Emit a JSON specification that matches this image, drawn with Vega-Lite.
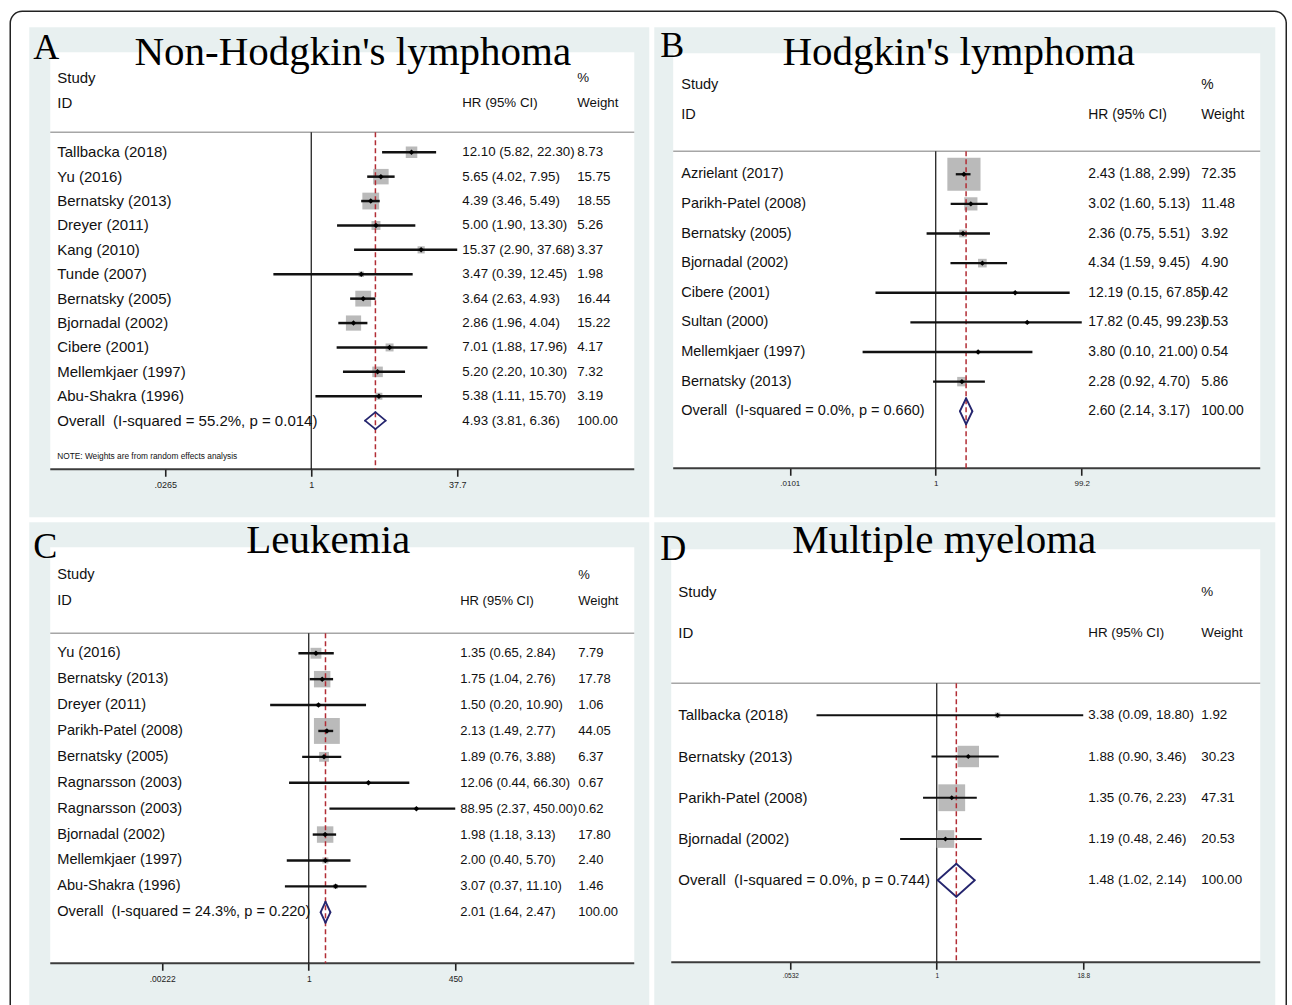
{
"$schema": "https://vega.github.io/schema/vega-lite/v6.json",
"background": "white",
"padding": {"left": 9.25, "top": 10.25, "right": 0, "bottom": 0},
"autosize": {"type": "pad"},
"bounds": "flush",
"columns": 2,
"spacing": 5,
"datasets": {
"nhl": [
{"row": 1, "study": "Tallbacka (2018)", "hr": 12.10, "lo": 5.82, "hi": 22.30, "wt": 8.73, "ci": "12.10 (5.82, 22.30)", "ov": false},
{"row": 2, "study": "Yu (2016)", "hr": 5.65, "lo": 4.02, "hi": 7.95, "wt": 15.75, "ci": "5.65 (4.02, 7.95)", "ov": false},
{"row": 3, "study": "Bernatsky (2013)", "hr": 4.39, "lo": 3.46, "hi": 5.49, "wt": 18.55, "ci": "4.39 (3.46, 5.49)", "ov": false},
{"row": 4, "study": "Dreyer (2011)", "hr": 5.00, "lo": 1.90, "hi": 13.30, "wt": 5.26, "ci": "5.00 (1.90, 13.30)", "ov": false},
{"row": 5, "study": "Kang (2010)", "hr": 15.37, "lo": 2.90, "hi": 37.68, "wt": 3.37, "ci": "15.37 (2.90, 37.68)", "ov": false},
{"row": 6, "study": "Tunde (2007)", "hr": 3.47, "lo": 0.39, "hi": 12.45, "wt": 1.98, "ci": "3.47 (0.39, 12.45)", "ov": false},
{"row": 7, "study": "Bernatsky (2005)", "hr": 3.64, "lo": 2.63, "hi": 4.93, "wt": 16.44, "ci": "3.64 (2.63, 4.93)", "ov": false},
{"row": 8, "study": "Bjornadal (2002)", "hr": 2.86, "lo": 1.96, "hi": 4.04, "wt": 15.22, "ci": "2.86 (1.96, 4.04)", "ov": false},
{"row": 9, "study": "Cibere (2001)", "hr": 7.01, "lo": 1.88, "hi": 17.96, "wt": 4.17, "ci": "7.01 (1.88, 17.96)", "ov": false},
{"row": 10, "study": "Mellemkjaer (1997)", "hr": 5.20, "lo": 2.20, "hi": 10.30, "wt": 7.32, "ci": "5.20 (2.20, 10.30)", "ov": false},
{"row": 11, "study": "Abu-Shakra (1996)", "hr": 5.38, "lo": 1.11, "hi": 15.70, "wt": 3.19, "ci": "5.38 (1.11, 15.70)", "ov": false},
{"row": 12, "study": "Overall\u00a0 (I-squared = 55.2%, p = 0.014)", "hr": 4.93, "lo": 3.81, "hi": 6.36, "wt": 100.00, "ci": "4.93 (3.81, 6.36)", "ov": true}
],
"hl": [
{"row": 1, "study": "Azrielant (2017)", "hr": 2.43, "lo": 1.88, "hi": 2.99, "wt": 72.35, "ci": "2.43 (1.88, 2.99)", "ov": false},
{"row": 2, "study": "Parikh-Patel (2008)", "hr": 3.02, "lo": 1.60, "hi": 5.13, "wt": 11.48, "ci": "3.02 (1.60, 5.13)", "ov": false},
{"row": 3, "study": "Bernatsky (2005)", "hr": 2.36, "lo": 0.75, "hi": 5.51, "wt": 3.92, "ci": "2.36 (0.75, 5.51)", "ov": false},
{"row": 4, "study": "Bjornadal (2002)", "hr": 4.34, "lo": 1.59, "hi": 9.45, "wt": 4.90, "ci": "4.34 (1.59, 9.45)", "ov": false},
{"row": 5, "study": "Cibere (2001)", "hr": 12.19, "lo": 0.15, "hi": 67.85, "wt": 0.42, "ci": "12.19 (0.15, 67.85)", "ov": false},
{"row": 6, "study": "Sultan (2000)", "hr": 17.82, "lo": 0.45, "hi": 99.23, "wt": 0.53, "ci": "17.82 (0.45, 99.23)", "ov": false},
{"row": 7, "study": "Mellemkjaer (1997)", "hr": 3.80, "lo": 0.10, "hi": 21.00, "wt": 0.54, "ci": "3.80 (0.10, 21.00)", "ov": false},
{"row": 8, "study": "Bernatsky (2013)", "hr": 2.28, "lo": 0.92, "hi": 4.70, "wt": 5.86, "ci": "2.28 (0.92, 4.70)", "ov": false},
{"row": 9, "study": "Overall\u00a0 (I-squared = 0.0%, p = 0.660)", "hr": 2.60, "lo": 2.14, "hi": 3.17, "wt": 100.00, "ci": "2.60 (2.14, 3.17)", "ov": true}
],
"leuk": [
{"row": 1, "study": "Yu (2016)", "hr": 1.35, "lo": 0.65, "hi": 2.84, "wt": 7.79, "ci": "1.35 (0.65, 2.84)", "ov": false},
{"row": 2, "study": "Bernatsky (2013)", "hr": 1.75, "lo": 1.04, "hi": 2.76, "wt": 17.78, "ci": "1.75 (1.04, 2.76)", "ov": false},
{"row": 3, "study": "Dreyer (2011)", "hr": 1.50, "lo": 0.20, "hi": 10.90, "wt": 1.06, "ci": "1.50 (0.20, 10.90)", "ov": false},
{"row": 4, "study": "Parikh-Patel (2008)", "hr": 2.13, "lo": 1.49, "hi": 2.77, "wt": 44.05, "ci": "2.13 (1.49, 2.77)", "ov": false},
{"row": 5, "study": "Bernatsky (2005)", "hr": 1.89, "lo": 0.76, "hi": 3.88, "wt": 6.37, "ci": "1.89 (0.76, 3.88)", "ov": false},
{"row": 6, "study": "Ragnarsson (2003)", "hr": 12.06, "lo": 0.44, "hi": 66.30, "wt": 0.67, "ci": "12.06 (0.44, 66.30)", "ov": false},
{"row": 7, "study": "Ragnarsson (2003)", "hr": 88.95, "lo": 2.37, "hi": 450.00, "wt": 0.62, "ci": "88.95 (2.37, 450.00)", "ov": false},
{"row": 8, "study": "Bjornadal (2002)", "hr": 1.98, "lo": 1.18, "hi": 3.13, "wt": 17.80, "ci": "1.98 (1.18, 3.13)", "ov": false},
{"row": 9, "study": "Mellemkjaer (1997)", "hr": 2.00, "lo": 0.40, "hi": 5.70, "wt": 2.40, "ci": "2.00 (0.40, 5.70)", "ov": false},
{"row": 10, "study": "Abu-Shakra (1996)", "hr": 3.07, "lo": 0.37, "hi": 11.10, "wt": 1.46, "ci": "3.07 (0.37, 11.10)", "ov": false},
{"row": 11, "study": "Overall\u00a0 (I-squared = 24.3%, p = 0.220)", "hr": 2.01, "lo": 1.64, "hi": 2.47, "wt": 100.00, "ci": "2.01 (1.64, 2.47)", "ov": true}
],
"mm": [
{"row": 1, "study": "Tallbacka (2018)", "hr": 3.38, "lo": 0.09, "hi": 18.80, "wt": 1.92, "ci": "3.38 (0.09, 18.80)", "ov": false},
{"row": 2, "study": "Bernatsky (2013)", "hr": 1.88, "lo": 0.90, "hi": 3.46, "wt": 30.23, "ci": "1.88 (0.90, 3.46)", "ov": false},
{"row": 3, "study": "Parikh-Patel (2008)", "hr": 1.35, "lo": 0.76, "hi": 2.23, "wt": 47.31, "ci": "1.35 (0.76, 2.23)", "ov": false},
{"row": 4, "study": "Bjornadal (2002)", "hr": 1.19, "lo": 0.48, "hi": 2.46, "wt": 20.53, "ci": "1.19 (0.48, 2.46)", "ov": false},
{"row": 5, "study": "Overall\u00a0 (I-squared = 0.0%, p = 0.744)", "hr": 1.48, "lo": 1.02, "hi": 2.14, "wt": 100.00, "ci": "1.48 (1.02, 2.14)", "ov": true}
]
},
"concat": [
{
"width": 620, "height": 490,
"view": {"fill": "#e8f0f0", "stroke": null},
"data": {"name": "nhl"},
"resolve": {"axis": {"x": "independent", "y": "independent"}},
"layer": [
{"data": {"values": [{}]}, "mark": {"type": "rect", "fillOpacity": 0, "stroke": "#222", "strokeWidth": 1.5, "cornerRadius": 12},
 "encoding": {"x": {"datum": 0.000562, "type": "quantitative", "scale": {"type": "log", "domain": [0.0009015, 4464], "nice": false}, "axis": null}, "x2": {"datum": 33740000000},
  "y": {"datum": -4.779, "type": "quantitative", "scale": {"type": "linear", "domain": [-4.123, 15.959], "reverse": true, "nice": false, "zero": false}, "axis": null}, "y2": {"datum": 36.57}}},
{"data": {"values": [{}]}, "mark": {"type": "rect", "fill": "white"},
 "encoding": {"x": {"datum": 0.00152, "type": "quantitative", "scale": {"type": "log", "domain": [0.0009015, 4464], "nice": false}, "axis": null}, "x2": {"datum": 3076},
  "y": {"datum": -3.098, "type": "quantitative", "scale": {"type": "linear", "domain": [-4.123, 15.959], "reverse": true, "nice": false, "zero": false}, "axis": null}, "y2": {"datum": 13.992}}},
{"data": {"values": [{}]}, "mark": {"type": "rule", "color": "#a6a6a6", "strokeWidth": 1.5},
 "encoding": {"x": {"datum": 0.00152, "type": "quantitative", "scale": {"type": "log", "domain": [0.0009015, 4464], "nice": false}, "axis": null}, "x2": {"datum": 3076},
  "y": {"datum": 0.18, "type": "quantitative", "scale": {"type": "linear", "domain": [-4.123, 15.959], "reverse": true, "nice": false, "zero": false}, "axis": null}}},
{"data": {"values": [{}]}, "mark": {"type": "rule", "color": "#3c3c3c", "strokeWidth": 2},
 "encoding": {"x": {"datum": 0.00152, "type": "quantitative", "scale": {"type": "log", "domain": [0.0009015, 4464], "nice": false}, "axis": null}, "x2": {"datum": 3076},
  "y": {"datum": 13.992, "type": "quantitative", "scale": {"type": "linear", "domain": [-4.123, 15.959], "reverse": true, "nice": false, "zero": false}, "axis": null}}},
{"data": {"values": [{}]}, "mark": {"type": "rule", "color": "#111", "strokeWidth": 1.2},
 "encoding": {"x": {"datum": 1, "type": "quantitative", "scale": {"type": "log", "domain": [0.0009015, 4464], "nice": false}, "axis": null},
  "y": {"datum": 0.18, "type": "quantitative", "scale": {"type": "linear", "domain": [-4.123, 15.959], "reverse": true, "nice": false, "zero": false}, "axis": null}, "y2": {"datum": 13.992}}},
{"transform": [{"filter": "!datum.ov"}], "mark": {"type": "point", "shape": "square", "filled": true, "color": "#bababa", "opacity": 1, "strokeWidth": 0},
 "encoding": {"x": {"field": "hr", "type": "quantitative", "scale": {"type": "log", "domain": [0.0009015, 4464], "nice": false}, "axis": null},
  "y": {"field": "row", "type": "quantitative", "scale": {"type": "linear", "domain": [-4.123, 15.959], "reverse": true, "nice": false, "zero": false}, "axis": null},
  "size": {"field": "wt", "type": "quantitative", "scale": {"type": "linear", "domain": [0, 100], "range": [0, 1521], "zero": true}, "legend": null}}},
{"data": {"values": [{}]}, "mark": {"type": "rule", "color": "#b22d35", "strokeWidth": 1.5, "strokeDash": [5, 3]},
 "encoding": {"x": {"datum": 4.93, "type": "quantitative", "scale": {"type": "log", "domain": [0.0009015, 4464], "nice": false}, "axis": null},
  "y": {"datum": 0.18, "type": "quantitative", "scale": {"type": "linear", "domain": [-4.123, 15.959], "reverse": true, "nice": false, "zero": false}, "axis": null}, "y2": {"datum": 13.992}}},
{"transform": [{"filter": "!datum.ov"}], "mark": {"type": "rule", "color": "#111", "strokeWidth": 2.5},
 "encoding": {"x": {"field": "lo", "type": "quantitative", "scale": {"type": "log", "domain": [0.0009015, 4464], "nice": false},
   "axis": {"orient": "bottom", "zindex": 3, "values": [0.0265, 1, 37.7], "format": "~g", "labelExpr": "datum.value < 1 ? slice(datum.label, 1) : datum.label", "offset": -48, "title": null, "domain": false, "grid": false, "ticks": true, "tickSize": 7, "tickWidth": 1.6, "tickColor": "#222", "labelFontSize": 9, "labelPadding": 4, "labelColor": "#222", "labelFont": "Liberation Sans", "labelFlush": false, "labelOverlap": false}},
  "x2": {"field": "hi"},
  "y": {"field": "row", "type": "quantitative", "scale": {"type": "linear", "domain": [-4.123, 15.959], "reverse": true, "nice": false, "zero": false}, "axis": null}}},
{"transform": [{"filter": "!datum.ov"}], "mark": {"type": "point", "shape": "diamond", "filled": true, "color": "#000", "opacity": 1, "size": 30},
 "encoding": {"x": {"field": "hr", "type": "quantitative", "scale": {"type": "log", "domain": [0.0009015, 4464], "nice": false}, "axis": null},
  "y": {"field": "row", "type": "quantitative", "scale": {"type": "linear", "domain": [-4.123, 15.959], "reverse": true, "nice": false, "zero": false}, "axis": null}}},
{"transform": [{"filter": "datum.ov"}], "mark": {"type": "rule", "color": "#25256e", "strokeWidth": 1.8, "strokeCap": "round", "y2Offset": -8.5},
 "encoding": {"x": {"field": "lo", "type": "quantitative", "scale": {"type": "log", "domain": [0.0009015, 4464], "nice": false}, "axis": null}, "x2": {"field": "hr"},
  "y": {"field": "row", "type": "quantitative", "scale": {"type": "linear", "domain": [-4.123, 15.959], "reverse": true, "nice": false, "zero": false}, "axis": null}, "y2": {"field": "row"}}},
{"transform": [{"filter": "datum.ov"}], "mark": {"type": "rule", "color": "#25256e", "strokeWidth": 1.8, "strokeCap": "round", "y2Offset": 8.5},
 "encoding": {"x": {"field": "lo", "type": "quantitative", "scale": {"type": "log", "domain": [0.0009015, 4464], "nice": false}, "axis": null}, "x2": {"field": "hr"},
  "y": {"field": "row", "type": "quantitative", "scale": {"type": "linear", "domain": [-4.123, 15.959], "reverse": true, "nice": false, "zero": false}, "axis": null}, "y2": {"field": "row"}}},
{"transform": [{"filter": "datum.ov"}], "mark": {"type": "rule", "color": "#25256e", "strokeWidth": 1.8, "strokeCap": "round", "yOffset": -8.5},
 "encoding": {"x": {"field": "hr", "type": "quantitative", "scale": {"type": "log", "domain": [0.0009015, 4464], "nice": false}, "axis": null}, "x2": {"field": "hi"},
  "y": {"field": "row", "type": "quantitative", "scale": {"type": "linear", "domain": [-4.123, 15.959], "reverse": true, "nice": false, "zero": false}, "axis": null}, "y2": {"field": "row"}}},
{"transform": [{"filter": "datum.ov"}], "mark": {"type": "rule", "color": "#25256e", "strokeWidth": 1.8, "strokeCap": "round", "yOffset": 8.5},
 "encoding": {"x": {"field": "hr", "type": "quantitative", "scale": {"type": "log", "domain": [0.0009015, 4464], "nice": false}, "axis": null}, "x2": {"field": "hi"},
  "y": {"field": "row", "type": "quantitative", "scale": {"type": "linear", "domain": [-4.123, 15.959], "reverse": true, "nice": false, "zero": false}, "axis": null}, "y2": {"field": "row"}}},
{"mark": {"type": "text", "align": "left", "baseline": "middle", "fontSize": 15},
 "encoding": {"x": {"datum": 0.001809, "type": "quantitative", "scale": {"type": "log", "domain": [0.0009015, 4464], "nice": false}, "axis": null},
  "y": {"field": "row", "type": "quantitative", "scale": {"type": "linear", "domain": [-4.123, 15.959], "reverse": true, "nice": false, "zero": false}, "axis": null}, "text": {"field": "study"}}},
{"mark": {"type": "text", "align": "left", "baseline": "middle", "fontSize": 13.3},
 "encoding": {"x": {"datum": 42.71, "type": "quantitative", "scale": {"type": "log", "domain": [0.0009015, 4464], "nice": false}, "axis": null},
  "y": {"field": "row", "type": "quantitative", "scale": {"type": "linear", "domain": [-4.123, 15.959], "reverse": true, "nice": false, "zero": false}, "axis": null}, "text": {"field": "ci"}}},
{"mark": {"type": "text", "align": "left", "baseline": "middle", "fontSize": 13.3},
 "encoding": {"x": {"datum": 744.6, "type": "quantitative", "scale": {"type": "log", "domain": [0.0009015, 4464], "nice": false}, "axis": null},
  "y": {"field": "row", "type": "quantitative", "scale": {"type": "linear", "domain": [-4.123, 15.959], "reverse": true, "nice": false, "zero": false}, "axis": null}, "text": {"field": "wt", "type": "quantitative", "format": ".2f"}}},
{"data": {"values": [{}]}, "mark": {"type": "text", "align": "left", "baseline": "middle", "fontSize": 15, "text": "Study"},
 "encoding": {"x": {"datum": 0.001809, "type": "quantitative", "scale": {"type": "log", "domain": [0.0009015, 4464], "nice": false}, "axis": null},
  "y": {"datum": -2.033, "type": "quantitative", "scale": {"type": "linear", "domain": [-4.123, 15.959], "reverse": true, "nice": false, "zero": false}, "axis": null}}},
{"data": {"values": [{}]}, "mark": {"type": "text", "align": "left", "baseline": "middle", "fontSize": 15, "text": "ID"},
 "encoding": {"x": {"datum": 0.001809, "type": "quantitative", "scale": {"type": "log", "domain": [0.0009015, 4464], "nice": false}, "axis": null},
  "y": {"datum": -1.008, "type": "quantitative", "scale": {"type": "linear", "domain": [-4.123, 15.959], "reverse": true, "nice": false, "zero": false}, "axis": null}}},
{"data": {"values": [{}]}, "mark": {"type": "text", "align": "left", "baseline": "middle", "fontSize": 13.3, "text": "HR (95% CI)"},
 "encoding": {"x": {"datum": 42.71, "type": "quantitative", "scale": {"type": "log", "domain": [0.0009015, 4464], "nice": false}, "axis": null},
  "y": {"datum": -1.008, "type": "quantitative", "scale": {"type": "linear", "domain": [-4.123, 15.959], "reverse": true, "nice": false, "zero": false}, "axis": null}}},
{"data": {"values": [{}]}, "mark": {"type": "text", "align": "left", "baseline": "middle", "fontSize": 13.3, "text": "%"},
 "encoding": {"x": {"datum": 744.6, "type": "quantitative", "scale": {"type": "log", "domain": [0.0009015, 4464], "nice": false}, "axis": null},
  "y": {"datum": -2.033, "type": "quantitative", "scale": {"type": "linear", "domain": [-4.123, 15.959], "reverse": true, "nice": false, "zero": false}, "axis": null}}},
{"data": {"values": [{}]}, "mark": {"type": "text", "align": "left", "baseline": "middle", "fontSize": 13.3, "text": "Weight"},
 "encoding": {"x": {"datum": 744.6, "type": "quantitative", "scale": {"type": "log", "domain": [0.0009015, 4464], "nice": false}, "axis": null},
  "y": {"datum": -1.008, "type": "quantitative", "scale": {"type": "linear", "domain": [-4.123, 15.959], "reverse": true, "nice": false, "zero": false}, "axis": null}}},
{"data": {"values": [{}]}, "mark": {"type": "text", "align": "left", "baseline": "middle", "fontSize": 8.3, "text": "NOTE: Weights are from random effects analysis"},
 "encoding": {"x": {"datum": 0.001809, "type": "quantitative", "scale": {"type": "log", "domain": [0.0009015, 4464], "nice": false}, "axis": null},
  "y": {"datum": 13.5, "type": "quantitative", "scale": {"type": "linear", "domain": [-4.123, 15.959], "reverse": true, "nice": false, "zero": false}, "axis": null}}},
{"data": {"values": [{}]}, "mark": {"type": "text", "align": "left", "baseline": "alphabetic", "fontSize": 36, "font": "Liberation Serif", "color": "#000", "text": "A"},
 "encoding": {"x": {"datum": 0.000996, "type": "quantitative", "scale": {"type": "log", "domain": [0.0009015, 4464], "nice": false}, "axis": null},
  "y": {"datum": -2.811, "type": "quantitative", "scale": {"type": "linear", "domain": [-4.123, 15.959], "reverse": true, "nice": false, "zero": false}, "axis": null}}},
{"data": {"values": [{}]}, "mark": {"type": "text", "align": "center", "baseline": "alphabetic", "fontSize": 41, "font": "Liberation Serif", "color": "#000", "text": "Non-Hodgkin's lymphoma"},
 "encoding": {"x": {"datum": 2.806, "type": "quantitative", "scale": {"type": "log", "domain": [0.0009015, 4464], "nice": false}, "axis": null},
  "y": {"datum": -2.566, "type": "quantitative", "scale": {"type": "linear", "domain": [-4.123, 15.959], "reverse": true, "nice": false, "zero": false}, "axis": null}}}
]
},
{
"width": 621, "height": 490,
"view": {"fill": "#e8f0f0", "stroke": null},
"data": {"name": "hl"},
"resolve": {"axis": {"x": "independent", "y": "independent"}},
"layer": [
{"data": {"values": [{}]}, "mark": {"type": "rect", "fill": "white"},
 "encoding": {"x": {"datum": 0.0002571, "type": "quantitative", "scale": {"type": "log", "domain": [0.0001416, 43897], "nice": false}, "axis": null}, "x2": {"datum": 27360},
  "y": {"datum": -3.084, "type": "quantitative", "scale": {"type": "linear", "domain": [-3.962, 12.578], "reverse": true, "nice": false, "zero": false}, "axis": null}, "y2": {"datum": 10.924}}},
{"data": {"values": [{}]}, "mark": {"type": "rule", "color": "#a6a6a6", "strokeWidth": 1.5},
 "encoding": {"x": {"datum": 0.0002571, "type": "quantitative", "scale": {"type": "log", "domain": [0.0001416, 43897], "nice": false}, "axis": null}, "x2": {"datum": 27360},
  "y": {"datum": 0.224, "type": "quantitative", "scale": {"type": "linear", "domain": [-3.962, 12.578], "reverse": true, "nice": false, "zero": false}, "axis": null}}},
{"data": {"values": [{}]}, "mark": {"type": "rule", "color": "#3c3c3c", "strokeWidth": 2},
 "encoding": {"x": {"datum": 0.0002571, "type": "quantitative", "scale": {"type": "log", "domain": [0.0001416, 43897], "nice": false}, "axis": null}, "x2": {"datum": 27360},
  "y": {"datum": 10.924, "type": "quantitative", "scale": {"type": "linear", "domain": [-3.962, 12.578], "reverse": true, "nice": false, "zero": false}, "axis": null}}},
{"data": {"values": [{}]}, "mark": {"type": "rule", "color": "#111", "strokeWidth": 1.2},
 "encoding": {"x": {"datum": 1, "type": "quantitative", "scale": {"type": "log", "domain": [0.0001416, 43897], "nice": false}, "axis": null},
  "y": {"datum": 0.224, "type": "quantitative", "scale": {"type": "linear", "domain": [-3.962, 12.578], "reverse": true, "nice": false, "zero": false}, "axis": null}, "y2": {"datum": 10.924}}},
{"transform": [{"filter": "!datum.ov"}], "mark": {"type": "point", "shape": "square", "filled": true, "color": "#bababa", "opacity": 1, "strokeWidth": 0},
 "encoding": {"x": {"field": "hr", "type": "quantitative", "scale": {"type": "log", "domain": [0.0001416, 43897], "nice": false}, "axis": null},
  "y": {"field": "row", "type": "quantitative", "scale": {"type": "linear", "domain": [-3.962, 12.578], "reverse": true, "nice": false, "zero": false}, "axis": null},
  "size": {"field": "wt", "type": "quantitative", "scale": {"type": "linear", "domain": [0, 100], "range": [0, 1600], "zero": true}, "legend": null}}},
{"data": {"values": [{}]}, "mark": {"type": "rule", "color": "#b22d35", "strokeWidth": 1.5, "strokeDash": [5, 3]},
 "encoding": {"x": {"datum": 2.60, "type": "quantitative", "scale": {"type": "log", "domain": [0.0001416, 43897], "nice": false}, "axis": null},
  "y": {"datum": 0.224, "type": "quantitative", "scale": {"type": "linear", "domain": [-3.962, 12.578], "reverse": true, "nice": false, "zero": false}, "axis": null}, "y2": {"datum": 10.924}}},
{"transform": [{"filter": "!datum.ov"}], "mark": {"type": "rule", "color": "#111", "strokeWidth": 2.3},
 "encoding": {"x": {"field": "lo", "type": "quantitative", "scale": {"type": "log", "domain": [0.0001416, 43897], "nice": false},
   "axis": {"orient": "bottom", "zindex": 3, "values": [0.0101, 1, 99.2], "format": "~g", "labelExpr": "datum.value < 1 ? slice(datum.label, 1) : datum.label", "offset": -49, "title": null, "domain": false, "grid": false, "ticks": true, "tickSize": 7, "tickWidth": 1.6, "tickColor": "#222", "labelFontSize": 8, "labelPadding": 4, "labelColor": "#222", "labelFont": "Liberation Sans", "labelFlush": false, "labelOverlap": false}},
  "x2": {"field": "hi"},
  "y": {"field": "row", "type": "quantitative", "scale": {"type": "linear", "domain": [-3.962, 12.578], "reverse": true, "nice": false, "zero": false}, "axis": null}}},
{"transform": [{"filter": "!datum.ov"}], "mark": {"type": "point", "shape": "diamond", "filled": true, "color": "#000", "opacity": 1, "size": 30},
 "encoding": {"x": {"field": "hr", "type": "quantitative", "scale": {"type": "log", "domain": [0.0001416, 43897], "nice": false}, "axis": null},
  "y": {"field": "row", "type": "quantitative", "scale": {"type": "linear", "domain": [-3.962, 12.578], "reverse": true, "nice": false, "zero": false}, "axis": null}}},
{"transform": [{"filter": "datum.ov"}], "mark": {"type": "rule", "color": "#25256e", "strokeWidth": 1.8, "strokeCap": "round", "y2Offset": -13},
 "encoding": {"x": {"field": "lo", "type": "quantitative", "scale": {"type": "log", "domain": [0.0001416, 43897], "nice": false}, "axis": null}, "x2": {"field": "hr"},
  "y": {"field": "row", "type": "quantitative", "scale": {"type": "linear", "domain": [-3.962, 12.578], "reverse": true, "nice": false, "zero": false}, "axis": null}, "y2": {"field": "row"}}},
{"transform": [{"filter": "datum.ov"}], "mark": {"type": "rule", "color": "#25256e", "strokeWidth": 1.8, "strokeCap": "round", "y2Offset": 13},
 "encoding": {"x": {"field": "lo", "type": "quantitative", "scale": {"type": "log", "domain": [0.0001416, 43897], "nice": false}, "axis": null}, "x2": {"field": "hr"},
  "y": {"field": "row", "type": "quantitative", "scale": {"type": "linear", "domain": [-3.962, 12.578], "reverse": true, "nice": false, "zero": false}, "axis": null}, "y2": {"field": "row"}}},
{"transform": [{"filter": "datum.ov"}], "mark": {"type": "rule", "color": "#25256e", "strokeWidth": 1.8, "strokeCap": "round", "yOffset": -13},
 "encoding": {"x": {"field": "hr", "type": "quantitative", "scale": {"type": "log", "domain": [0.0001416, 43897], "nice": false}, "axis": null}, "x2": {"field": "hi"},
  "y": {"field": "row", "type": "quantitative", "scale": {"type": "linear", "domain": [-3.962, 12.578], "reverse": true, "nice": false, "zero": false}, "axis": null}, "y2": {"field": "row"}}},
{"transform": [{"filter": "datum.ov"}], "mark": {"type": "rule", "color": "#25256e", "strokeWidth": 1.8, "strokeCap": "round", "yOffset": 13},
 "encoding": {"x": {"field": "hr", "type": "quantitative", "scale": {"type": "log", "domain": [0.0001416, 43897], "nice": false}, "axis": null}, "x2": {"field": "hi"},
  "y": {"field": "row", "type": "quantitative", "scale": {"type": "linear", "domain": [-3.962, 12.578], "reverse": true, "nice": false, "zero": false}, "axis": null}, "y2": {"field": "row"}}},
{"mark": {"type": "text", "align": "left", "baseline": "middle", "fontSize": 14.5},
 "encoding": {"x": {"datum": 0.000331, "type": "quantitative", "scale": {"type": "log", "domain": [0.0001416, 43897], "nice": false}, "axis": null},
  "y": {"field": "row", "type": "quantitative", "scale": {"type": "linear", "domain": [-3.962, 12.578], "reverse": true, "nice": false, "zero": false}, "axis": null}, "text": {"field": "study"}}},
{"mark": {"type": "text", "align": "left", "baseline": "middle", "fontSize": 13.9},
 "encoding": {"x": {"datum": 121.7, "type": "quantitative", "scale": {"type": "log", "domain": [0.0001416, 43897], "nice": false}, "axis": null},
  "y": {"field": "row", "type": "quantitative", "scale": {"type": "linear", "domain": [-3.962, 12.578], "reverse": true, "nice": false, "zero": false}, "axis": null}, "text": {"field": "ci"}}},
{"mark": {"type": "text", "align": "left", "baseline": "middle", "fontSize": 13.9},
 "encoding": {"x": {"datum": 4272, "type": "quantitative", "scale": {"type": "log", "domain": [0.0001416, 43897], "nice": false}, "axis": null},
  "y": {"field": "row", "type": "quantitative", "scale": {"type": "linear", "domain": [-3.962, 12.578], "reverse": true, "nice": false, "zero": false}, "axis": null}, "text": {"field": "wt", "type": "quantitative", "format": ".2f"}}},
{"data": {"values": [{}]}, "mark": {"type": "text", "align": "left", "baseline": "middle", "fontSize": 14.5, "text": "Study"},
 "encoding": {"x": {"datum": 0.000331, "type": "quantitative", "scale": {"type": "log", "domain": [0.0001416, 43897], "nice": false}, "axis": null},
  "y": {"datum": -2.004, "type": "quantitative", "scale": {"type": "linear", "domain": [-3.962, 12.578], "reverse": true, "nice": false, "zero": false}, "axis": null}}},
{"data": {"values": [{}]}, "mark": {"type": "text", "align": "left", "baseline": "middle", "fontSize": 14.5, "text": "ID"},
 "encoding": {"x": {"datum": 0.000331, "type": "quantitative", "scale": {"type": "log", "domain": [0.0001416, 43897], "nice": false}, "axis": null},
  "y": {"datum": -0.992, "type": "quantitative", "scale": {"type": "linear", "domain": [-3.962, 12.578], "reverse": true, "nice": false, "zero": false}, "axis": null}}},
{"data": {"values": [{}]}, "mark": {"type": "text", "align": "left", "baseline": "middle", "fontSize": 13.9, "text": "HR (95% CI)"},
 "encoding": {"x": {"datum": 121.7, "type": "quantitative", "scale": {"type": "log", "domain": [0.0001416, 43897], "nice": false}, "axis": null},
  "y": {"datum": -0.992, "type": "quantitative", "scale": {"type": "linear", "domain": [-3.962, 12.578], "reverse": true, "nice": false, "zero": false}, "axis": null}}},
{"data": {"values": [{}]}, "mark": {"type": "text", "align": "left", "baseline": "middle", "fontSize": 13.9, "text": "%"},
 "encoding": {"x": {"datum": 4272, "type": "quantitative", "scale": {"type": "log", "domain": [0.0001416, 43897], "nice": false}, "axis": null},
  "y": {"datum": -2.004, "type": "quantitative", "scale": {"type": "linear", "domain": [-3.962, 12.578], "reverse": true, "nice": false, "zero": false}, "axis": null}}},
{"data": {"values": [{}]}, "mark": {"type": "text", "align": "left", "baseline": "middle", "fontSize": 13.9, "text": "Weight"},
 "encoding": {"x": {"datum": 4272, "type": "quantitative", "scale": {"type": "log", "domain": [0.0001416, 43897], "nice": false}, "axis": null},
  "y": {"datum": -0.992, "type": "quantitative", "scale": {"type": "linear", "domain": [-3.962, 12.578], "reverse": true, "nice": false, "zero": false}, "axis": null}}},
{"data": {"values": [{}]}, "mark": {"type": "text", "align": "left", "baseline": "alphabetic", "fontSize": 36, "font": "Liberation Serif", "color": "#000", "text": "B"},
 "encoding": {"x": {"datum": 0.0001709, "type": "quantitative", "scale": {"type": "log", "domain": [0.0001416, 43897], "nice": false}, "axis": null},
  "y": {"datum": -2.949, "type": "quantitative", "scale": {"type": "linear", "domain": [-3.962, 12.578], "reverse": true, "nice": false, "zero": false}, "axis": null}}},
{"data": {"values": [{}]}, "mark": {"type": "text", "align": "center", "baseline": "alphabetic", "fontSize": 41, "font": "Liberation Serif", "color": "#000", "text": "Hodgkin's lymphoma"},
 "encoding": {"x": {"datum": 2.063, "type": "quantitative", "scale": {"type": "log", "domain": [0.0001416, 43897], "nice": false}, "axis": null},
  "y": {"datum": -2.679, "type": "quantitative", "scale": {"type": "linear", "domain": [-3.962, 12.578], "reverse": true, "nice": false, "zero": false}, "axis": null}}}
]
},
{
"width": 620, "height": 490,
"view": {"fill": "#e8f0f0", "stroke": null},
"data": {"name": "leuk"},
"resolve": {"axis": {"x": "independent", "y": "independent"}},
"layer": [
{"data": {"values": [{}]}, "mark": {"type": "rect", "fill": "white"},
 "encoding": {"x": {"datum": 0.000020815, "type": "quantitative", "scale": {"type": "log", "domain": [0.000008671, 1467900], "nice": false}, "axis": null}, "x2": {"datum": 785330},
  "y": {"datum": -3.093, "type": "quantitative", "scale": {"type": "linear", "domain": [-4.058, 14.861], "reverse": true, "nice": false, "zero": false}, "axis": null}, "y2": {"datum": 12.969}}},
{"data": {"values": [{}]}, "mark": {"type": "rule", "color": "#a6a6a6", "strokeWidth": 1.5},
 "encoding": {"x": {"datum": 0.000020815, "type": "quantitative", "scale": {"type": "log", "domain": [0.000008671, 1467900], "nice": false}, "axis": null}, "x2": {"datum": 785330},
  "y": {"datum": 0.228, "type": "quantitative", "scale": {"type": "linear", "domain": [-4.058, 14.861], "reverse": true, "nice": false, "zero": false}, "axis": null}}},
{"data": {"values": [{}]}, "mark": {"type": "rule", "color": "#3c3c3c", "strokeWidth": 2},
 "encoding": {"x": {"datum": 0.000020815, "type": "quantitative", "scale": {"type": "log", "domain": [0.000008671, 1467900], "nice": false}, "axis": null}, "x2": {"datum": 785330},
  "y": {"datum": 12.969, "type": "quantitative", "scale": {"type": "linear", "domain": [-4.058, 14.861], "reverse": true, "nice": false, "zero": false}, "axis": null}}},
{"data": {"values": [{}]}, "mark": {"type": "rule", "color": "#111", "strokeWidth": 1.2},
 "encoding": {"x": {"datum": 1, "type": "quantitative", "scale": {"type": "log", "domain": [0.000008671, 1467900], "nice": false}, "axis": null},
  "y": {"datum": 0.228, "type": "quantitative", "scale": {"type": "linear", "domain": [-4.058, 14.861], "reverse": true, "nice": false, "zero": false}, "axis": null}, "y2": {"datum": 12.969}}},
{"transform": [{"filter": "!datum.ov"}], "mark": {"type": "point", "shape": "square", "filled": true, "color": "#bababa", "opacity": 1, "strokeWidth": 0},
 "encoding": {"x": {"field": "hr", "type": "quantitative", "scale": {"type": "log", "domain": [0.000008671, 1467900], "nice": false}, "axis": null},
  "y": {"field": "row", "type": "quantitative", "scale": {"type": "linear", "domain": [-4.058, 14.861], "reverse": true, "nice": false, "zero": false}, "axis": null},
  "size": {"field": "wt", "type": "quantitative", "scale": {"type": "linear", "domain": [0, 100], "range": [0, 2601], "zero": true}, "legend": null}}},
{"data": {"values": [{}]}, "mark": {"type": "rule", "color": "#b22d35", "strokeWidth": 1.5, "strokeDash": [5, 3]},
 "encoding": {"x": {"datum": 2.01, "type": "quantitative", "scale": {"type": "log", "domain": [0.000008671, 1467900], "nice": false}, "axis": null},
  "y": {"datum": 0.228, "type": "quantitative", "scale": {"type": "linear", "domain": [-4.058, 14.861], "reverse": true, "nice": false, "zero": false}, "axis": null}, "y2": {"datum": 12.969}}},
{"transform": [{"filter": "!datum.ov"}], "mark": {"type": "rule", "color": "#111", "strokeWidth": 2.4},
 "encoding": {"x": {"field": "lo", "type": "quantitative", "scale": {"type": "log", "domain": [0.000008671, 1467900], "nice": false},
   "axis": {"orient": "bottom", "zindex": 3, "values": [0.00222, 1, 450], "format": "~g", "labelExpr": "datum.value < 1 ? slice(datum.label, 1) : datum.label", "offset": -49, "title": null, "domain": false, "grid": false, "ticks": true, "tickSize": 7, "tickWidth": 1.6, "tickColor": "#222", "labelFontSize": 8.5, "labelPadding": 4, "labelColor": "#222", "labelFont": "Liberation Sans", "labelFlush": false, "labelOverlap": false}},
  "x2": {"field": "hi"},
  "y": {"field": "row", "type": "quantitative", "scale": {"type": "linear", "domain": [-4.058, 14.861], "reverse": true, "nice": false, "zero": false}, "axis": null}}},
{"transform": [{"filter": "!datum.ov"}], "mark": {"type": "point", "shape": "diamond", "filled": true, "color": "#000", "opacity": 1, "size": 30},
 "encoding": {"x": {"field": "hr", "type": "quantitative", "scale": {"type": "log", "domain": [0.000008671, 1467900], "nice": false}, "axis": null},
  "y": {"field": "row", "type": "quantitative", "scale": {"type": "linear", "domain": [-4.058, 14.861], "reverse": true, "nice": false, "zero": false}, "axis": null}}},
{"transform": [{"filter": "datum.ov"}], "mark": {"type": "rule", "color": "#25256e", "strokeWidth": 1.8, "strokeCap": "round", "y2Offset": -10.5},
 "encoding": {"x": {"field": "lo", "type": "quantitative", "scale": {"type": "log", "domain": [0.000008671, 1467900], "nice": false}, "axis": null}, "x2": {"field": "hr"},
  "y": {"field": "row", "type": "quantitative", "scale": {"type": "linear", "domain": [-4.058, 14.861], "reverse": true, "nice": false, "zero": false}, "axis": null}, "y2": {"field": "row"}}},
{"transform": [{"filter": "datum.ov"}], "mark": {"type": "rule", "color": "#25256e", "strokeWidth": 1.8, "strokeCap": "round", "y2Offset": 10.5},
 "encoding": {"x": {"field": "lo", "type": "quantitative", "scale": {"type": "log", "domain": [0.000008671, 1467900], "nice": false}, "axis": null}, "x2": {"field": "hr"},
  "y": {"field": "row", "type": "quantitative", "scale": {"type": "linear", "domain": [-4.058, 14.861], "reverse": true, "nice": false, "zero": false}, "axis": null}, "y2": {"field": "row"}}},
{"transform": [{"filter": "datum.ov"}], "mark": {"type": "rule", "color": "#25256e", "strokeWidth": 1.8, "strokeCap": "round", "yOffset": -10.5},
 "encoding": {"x": {"field": "hr", "type": "quantitative", "scale": {"type": "log", "domain": [0.000008671, 1467900], "nice": false}, "axis": null}, "x2": {"field": "hi"},
  "y": {"field": "row", "type": "quantitative", "scale": {"type": "linear", "domain": [-4.058, 14.861], "reverse": true, "nice": false, "zero": false}, "axis": null}, "y2": {"field": "row"}}},
{"transform": [{"filter": "datum.ov"}], "mark": {"type": "rule", "color": "#25256e", "strokeWidth": 1.8, "strokeCap": "round", "yOffset": 10.5},
 "encoding": {"x": {"field": "hr", "type": "quantitative", "scale": {"type": "log", "domain": [0.000008671, 1467900], "nice": false}, "axis": null}, "x2": {"field": "hi"},
  "y": {"field": "row", "type": "quantitative", "scale": {"type": "linear", "domain": [-4.058, 14.861], "reverse": true, "nice": false, "zero": false}, "axis": null}, "y2": {"field": "row"}}},
{"mark": {"type": "text", "align": "left", "baseline": "middle", "fontSize": 14.6},
 "encoding": {"x": {"datum": 0.00002787, "type": "quantitative", "scale": {"type": "log", "domain": [0.000008671, 1467900], "nice": false}, "axis": null},
  "y": {"field": "row", "type": "quantitative", "scale": {"type": "linear", "domain": [-4.058, 14.861], "reverse": true, "nice": false, "zero": false}, "axis": null}, "text": {"field": "study"}}},
{"mark": {"type": "text", "align": "left", "baseline": "middle", "fontSize": 13},
 "encoding": {"x": {"datum": 554, "type": "quantitative", "scale": {"type": "log", "domain": [0.000008671, 1467900], "nice": false}, "axis": null},
  "y": {"field": "row", "type": "quantitative", "scale": {"type": "linear", "domain": [-4.058, 14.861], "reverse": true, "nice": false, "zero": false}, "axis": null}, "text": {"field": "ci"}}},
{"mark": {"type": "text", "align": "left", "baseline": "middle", "fontSize": 13},
 "encoding": {"x": {"datum": 76000, "type": "quantitative", "scale": {"type": "log", "domain": [0.000008671, 1467900], "nice": false}, "axis": null},
  "y": {"field": "row", "type": "quantitative", "scale": {"type": "linear", "domain": [-4.058, 14.861], "reverse": true, "nice": false, "zero": false}, "axis": null}, "text": {"field": "wt", "type": "quantitative", "format": ".2f"}}},
{"data": {"values": [{}]}, "mark": {"type": "text", "align": "left", "baseline": "middle", "fontSize": 14.6, "text": "Study"},
 "encoding": {"x": {"datum": 0.00002787, "type": "quantitative", "scale": {"type": "log", "domain": [0.000008671, 1467900], "nice": false}, "axis": null},
  "y": {"datum": -2.012, "type": "quantitative", "scale": {"type": "linear", "domain": [-4.058, 14.861], "reverse": true, "nice": false, "zero": false}, "axis": null}}},
{"data": {"values": [{}]}, "mark": {"type": "text", "align": "left", "baseline": "middle", "fontSize": 14.6, "text": "ID"},
 "encoding": {"x": {"datum": 0.00002787, "type": "quantitative", "scale": {"type": "log", "domain": [0.000008671, 1467900], "nice": false}, "axis": null},
  "y": {"datum": -1.008, "type": "quantitative", "scale": {"type": "linear", "domain": [-4.058, 14.861], "reverse": true, "nice": false, "zero": false}, "axis": null}}},
{"data": {"values": [{}]}, "mark": {"type": "text", "align": "left", "baseline": "middle", "fontSize": 13, "text": "HR (95% CI)"},
 "encoding": {"x": {"datum": 554, "type": "quantitative", "scale": {"type": "log", "domain": [0.000008671, 1467900], "nice": false}, "axis": null},
  "y": {"datum": -1.008, "type": "quantitative", "scale": {"type": "linear", "domain": [-4.058, 14.861], "reverse": true, "nice": false, "zero": false}, "axis": null}}},
{"data": {"values": [{}]}, "mark": {"type": "text", "align": "left", "baseline": "middle", "fontSize": 13, "text": "%"},
 "encoding": {"x": {"datum": 76000, "type": "quantitative", "scale": {"type": "log", "domain": [0.000008671, 1467900], "nice": false}, "axis": null},
  "y": {"datum": -2.012, "type": "quantitative", "scale": {"type": "linear", "domain": [-4.058, 14.861], "reverse": true, "nice": false, "zero": false}, "axis": null}}},
{"data": {"values": [{}]}, "mark": {"type": "text", "align": "left", "baseline": "middle", "fontSize": 13, "text": "Weight"},
 "encoding": {"x": {"datum": 76000, "type": "quantitative", "scale": {"type": "log", "domain": [0.000008671, 1467900], "nice": false}, "axis": null},
  "y": {"datum": -1.008, "type": "quantitative", "scale": {"type": "linear", "domain": [-4.058, 14.861], "reverse": true, "nice": false, "zero": false}, "axis": null}}},
{"data": {"values": [{}]}, "mark": {"type": "text", "align": "left", "baseline": "alphabetic", "fontSize": 36, "font": "Liberation Serif", "color": "#000", "text": "C"},
 "encoding": {"x": {"datum": 0.000010245, "type": "quantitative", "scale": {"type": "log", "domain": [0.000008671, 1467900], "nice": false}, "axis": null},
  "y": {"datum": -2.668, "type": "quantitative", "scale": {"type": "linear", "domain": [-4.058, 14.861], "reverse": true, "nice": false, "zero": false}, "axis": null}}},
{"data": {"values": [{}]}, "mark": {"type": "text", "align": "center", "baseline": "alphabetic", "fontSize": 41, "font": "Liberation Serif", "color": "#000", "text": "Leukemia"},
 "encoding": {"x": {"datum": 2.255, "type": "quantitative", "scale": {"type": "log", "domain": [0.000008671, 1467900], "nice": false}, "axis": null},
  "y": {"datum": -2.861, "type": "quantitative", "scale": {"type": "linear", "domain": [-4.058, 14.861], "reverse": true, "nice": false, "zero": false}, "axis": null}}}
]
},
{
"width": 621, "height": 490,
"view": {"fill": "#e8f0f0", "stroke": null},
"data": {"name": "mm"},
"resolve": {"axis": {"x": "independent", "y": "independent"}},
"layer": [
{"data": {"values": [{}]}, "mark": {"type": "rect", "fill": "white"},
 "encoding": {"x": {"datum": 0.004905, "type": "quantitative", "scale": {"type": "log", "domain": [0.0034898, 879.7], "nice": false}, "axis": null}, "x2": {"datum": 651.4},
  "y": {"datum": -3.024, "type": "quantitative", "scale": {"type": "linear", "domain": [-3.679, 8.2], "reverse": true, "nice": false, "zero": false}, "axis": null}, "y2": {"datum": 6.988}}},
{"data": {"values": [{}]}, "mark": {"type": "rule", "color": "#a6a6a6", "strokeWidth": 1.5},
 "encoding": {"x": {"datum": 0.004905, "type": "quantitative", "scale": {"type": "log", "domain": [0.0034898, 879.7], "nice": false}, "axis": null}, "x2": {"datum": 651.4},
  "y": {"datum": 0.224, "type": "quantitative", "scale": {"type": "linear", "domain": [-3.679, 8.2], "reverse": true, "nice": false, "zero": false}, "axis": null}}},
{"data": {"values": [{}]}, "mark": {"type": "rule", "color": "#3c3c3c", "strokeWidth": 2},
 "encoding": {"x": {"datum": 0.004905, "type": "quantitative", "scale": {"type": "log", "domain": [0.0034898, 879.7], "nice": false}, "axis": null}, "x2": {"datum": 651.4},
  "y": {"datum": 6.988, "type": "quantitative", "scale": {"type": "linear", "domain": [-3.679, 8.2], "reverse": true, "nice": false, "zero": false}, "axis": null}}},
{"data": {"values": [{}]}, "mark": {"type": "rule", "color": "#111", "strokeWidth": 1.2},
 "encoding": {"x": {"datum": 1, "type": "quantitative", "scale": {"type": "log", "domain": [0.0034898, 879.7], "nice": false}, "axis": null},
  "y": {"datum": 0.224, "type": "quantitative", "scale": {"type": "linear", "domain": [-3.679, 8.2], "reverse": true, "nice": false, "zero": false}, "axis": null}, "y2": {"datum": 6.988}}},
{"transform": [{"filter": "!datum.ov"}], "mark": {"type": "point", "shape": "square", "filled": true, "color": "#bababa", "opacity": 1, "strokeWidth": 0},
 "encoding": {"x": {"field": "hr", "type": "quantitative", "scale": {"type": "log", "domain": [0.0034898, 879.7], "nice": false}, "axis": null},
  "y": {"field": "row", "type": "quantitative", "scale": {"type": "linear", "domain": [-3.679, 8.2], "reverse": true, "nice": false, "zero": false}, "axis": null},
  "size": {"field": "wt", "type": "quantitative", "scale": {"type": "linear", "domain": [0, 100], "range": [0, 1444], "zero": true}, "legend": null}}},
{"data": {"values": [{}]}, "mark": {"type": "rule", "color": "#b22d35", "strokeWidth": 1.5, "strokeDash": [5, 3]},
 "encoding": {"x": {"datum": 1.48, "type": "quantitative", "scale": {"type": "log", "domain": [0.0034898, 879.7], "nice": false}, "axis": null},
  "y": {"datum": 0.224, "type": "quantitative", "scale": {"type": "linear", "domain": [-3.679, 8.2], "reverse": true, "nice": false, "zero": false}, "axis": null}, "y2": {"datum": 6.988}}},
{"transform": [{"filter": "!datum.ov"}], "mark": {"type": "rule", "color": "#111", "strokeWidth": 1.8},
 "encoding": {"x": {"field": "lo", "type": "quantitative", "scale": {"type": "log", "domain": [0.0034898, 879.7], "nice": false},
   "axis": {"orient": "bottom", "zindex": 3, "values": [0.0532, 1, 18.8], "format": "~g", "labelExpr": "datum.value < 1 ? slice(datum.label, 1) : datum.label", "offset": -50, "title": null, "domain": false, "grid": false, "ticks": true, "tickSize": 7, "tickWidth": 1.6, "tickColor": "#222", "labelFontSize": 6.5, "labelPadding": 3, "labelColor": "#222", "labelFont": "Liberation Sans", "labelFlush": false, "labelOverlap": false}},
  "x2": {"field": "hi"},
  "y": {"field": "row", "type": "quantitative", "scale": {"type": "linear", "domain": [-3.679, 8.2], "reverse": true, "nice": false, "zero": false}, "axis": null}}},
{"transform": [{"filter": "!datum.ov"}], "mark": {"type": "point", "shape": "diamond", "filled": true, "color": "#000", "opacity": 1, "size": 25},
 "encoding": {"x": {"field": "hr", "type": "quantitative", "scale": {"type": "log", "domain": [0.0034898, 879.7], "nice": false}, "axis": null},
  "y": {"field": "row", "type": "quantitative", "scale": {"type": "linear", "domain": [-3.679, 8.2], "reverse": true, "nice": false, "zero": false}, "axis": null}}},
{"transform": [{"filter": "datum.ov"}], "mark": {"type": "rule", "color": "#25256e", "strokeWidth": 1.8, "strokeCap": "round", "y2Offset": -16.5},
 "encoding": {"x": {"field": "lo", "type": "quantitative", "scale": {"type": "log", "domain": [0.0034898, 879.7], "nice": false}, "axis": null}, "x2": {"field": "hr"},
  "y": {"field": "row", "type": "quantitative", "scale": {"type": "linear", "domain": [-3.679, 8.2], "reverse": true, "nice": false, "zero": false}, "axis": null}, "y2": {"field": "row"}}},
{"transform": [{"filter": "datum.ov"}], "mark": {"type": "rule", "color": "#25256e", "strokeWidth": 1.8, "strokeCap": "round", "y2Offset": 16.5},
 "encoding": {"x": {"field": "lo", "type": "quantitative", "scale": {"type": "log", "domain": [0.0034898, 879.7], "nice": false}, "axis": null}, "x2": {"field": "hr"},
  "y": {"field": "row", "type": "quantitative", "scale": {"type": "linear", "domain": [-3.679, 8.2], "reverse": true, "nice": false, "zero": false}, "axis": null}, "y2": {"field": "row"}}},
{"transform": [{"filter": "datum.ov"}], "mark": {"type": "rule", "color": "#25256e", "strokeWidth": 1.8, "strokeCap": "round", "yOffset": -16.5},
 "encoding": {"x": {"field": "hr", "type": "quantitative", "scale": {"type": "log", "domain": [0.0034898, 879.7], "nice": false}, "axis": null}, "x2": {"field": "hi"},
  "y": {"field": "row", "type": "quantitative", "scale": {"type": "linear", "domain": [-3.679, 8.2], "reverse": true, "nice": false, "zero": false}, "axis": null}, "y2": {"field": "row"}}},
{"transform": [{"filter": "datum.ov"}], "mark": {"type": "rule", "color": "#25256e", "strokeWidth": 1.8, "strokeCap": "round", "yOffset": 16.5},
 "encoding": {"x": {"field": "hr", "type": "quantitative", "scale": {"type": "log", "domain": [0.0034898, 879.7], "nice": false}, "axis": null}, "x2": {"field": "hi"},
  "y": {"field": "row", "type": "quantitative", "scale": {"type": "linear", "domain": [-3.679, 8.2], "reverse": true, "nice": false, "zero": false}, "axis": null}, "y2": {"field": "row"}}},
{"mark": {"type": "text", "align": "left", "baseline": "middle", "fontSize": 15},
 "encoding": {"x": {"datum": 0.005643, "type": "quantitative", "scale": {"type": "log", "domain": [0.0034898, 879.7], "nice": false}, "axis": null},
  "y": {"field": "row", "type": "quantitative", "scale": {"type": "linear", "domain": [-3.679, 8.2], "reverse": true, "nice": false, "zero": false}, "axis": null}, "text": {"field": "study"}}},
{"mark": {"type": "text", "align": "left", "baseline": "middle", "fontSize": 13.4},
 "encoding": {"x": {"datum": 20.79, "type": "quantitative", "scale": {"type": "log", "domain": [0.0034898, 879.7], "nice": false}, "axis": null},
  "y": {"field": "row", "type": "quantitative", "scale": {"type": "linear", "domain": [-3.679, 8.2], "reverse": true, "nice": false, "zero": false}, "axis": null}, "text": {"field": "ci"}}},
{"mark": {"type": "text", "align": "left", "baseline": "middle", "fontSize": 13.4},
 "encoding": {"x": {"datum": 199.8, "type": "quantitative", "scale": {"type": "log", "domain": [0.0034898, 879.7], "nice": false}, "axis": null},
  "y": {"field": "row", "type": "quantitative", "scale": {"type": "linear", "domain": [-3.679, 8.2], "reverse": true, "nice": false, "zero": false}, "axis": null}, "text": {"field": "wt", "type": "quantitative", "format": ".2f"}}},
{"data": {"values": [{}]}, "mark": {"type": "text", "align": "left", "baseline": "middle", "fontSize": 15, "text": "Study"},
 "encoding": {"x": {"datum": 0.005643, "type": "quantitative", "scale": {"type": "log", "domain": [0.0034898, 879.7], "nice": false}, "axis": null},
  "y": {"datum": -1.982, "type": "quantitative", "scale": {"type": "linear", "domain": [-3.679, 8.2], "reverse": true, "nice": false, "zero": false}, "axis": null}}},
{"data": {"values": [{}]}, "mark": {"type": "text", "align": "left", "baseline": "middle", "fontSize": 15, "text": "ID"},
 "encoding": {"x": {"datum": 0.005643, "type": "quantitative", "scale": {"type": "log", "domain": [0.0034898, 879.7], "nice": false}, "axis": null},
  "y": {"datum": -0.988, "type": "quantitative", "scale": {"type": "linear", "domain": [-3.679, 8.2], "reverse": true, "nice": false, "zero": false}, "axis": null}}},
{"data": {"values": [{}]}, "mark": {"type": "text", "align": "left", "baseline": "middle", "fontSize": 13.4, "text": "HR (95% CI)"},
 "encoding": {"x": {"datum": 20.79, "type": "quantitative", "scale": {"type": "log", "domain": [0.0034898, 879.7], "nice": false}, "axis": null},
  "y": {"datum": -0.988, "type": "quantitative", "scale": {"type": "linear", "domain": [-3.679, 8.2], "reverse": true, "nice": false, "zero": false}, "axis": null}}},
{"data": {"values": [{}]}, "mark": {"type": "text", "align": "left", "baseline": "middle", "fontSize": 13.4, "text": "%"},
 "encoding": {"x": {"datum": 199.8, "type": "quantitative", "scale": {"type": "log", "domain": [0.0034898, 879.7], "nice": false}, "axis": null},
  "y": {"datum": -1.982, "type": "quantitative", "scale": {"type": "linear", "domain": [-3.679, 8.2], "reverse": true, "nice": false, "zero": false}, "axis": null}}},
{"data": {"values": [{}]}, "mark": {"type": "text", "align": "left", "baseline": "middle", "fontSize": 13.4, "text": "Weight"},
 "encoding": {"x": {"datum": 199.8, "type": "quantitative", "scale": {"type": "log", "domain": [0.0034898, 879.7], "nice": false}, "axis": null},
  "y": {"datum": -0.988, "type": "quantitative", "scale": {"type": "linear", "domain": [-3.679, 8.2], "reverse": true, "nice": false, "zero": false}, "axis": null}}},
{"data": {"values": [{}]}, "mark": {"type": "text", "align": "left", "baseline": "alphabetic", "fontSize": 36, "font": "Liberation Serif", "color": "#000", "text": "D"},
 "encoding": {"x": {"datum": 0.003935, "type": "quantitative", "scale": {"type": "log", "domain": [0.0034898, 879.7], "nice": false}, "axis": null},
  "y": {"datum": -2.758, "type": "quantitative", "scale": {"type": "linear", "domain": [-3.679, 8.2], "reverse": true, "nice": false, "zero": false}, "axis": null}}},
{"data": {"values": [{}]}, "mark": {"type": "text", "align": "center", "baseline": "alphabetic", "fontSize": 41, "font": "Liberation Serif", "color": "#000", "text": "Multiple myeloma"},
 "encoding": {"x": {"datum": 1.162, "type": "quantitative", "scale": {"type": "log", "domain": [0.0034898, 879.7], "nice": false}, "axis": null},
  "y": {"datum": -2.927, "type": "quantitative", "scale": {"type": "linear", "domain": [-3.679, 8.2], "reverse": true, "nice": false, "zero": false}, "axis": null}}}
]
}
],
"config": {
"view": {"stroke": null},
"text": {"font": "Liberation Sans", "color": "#111"}
}
}
